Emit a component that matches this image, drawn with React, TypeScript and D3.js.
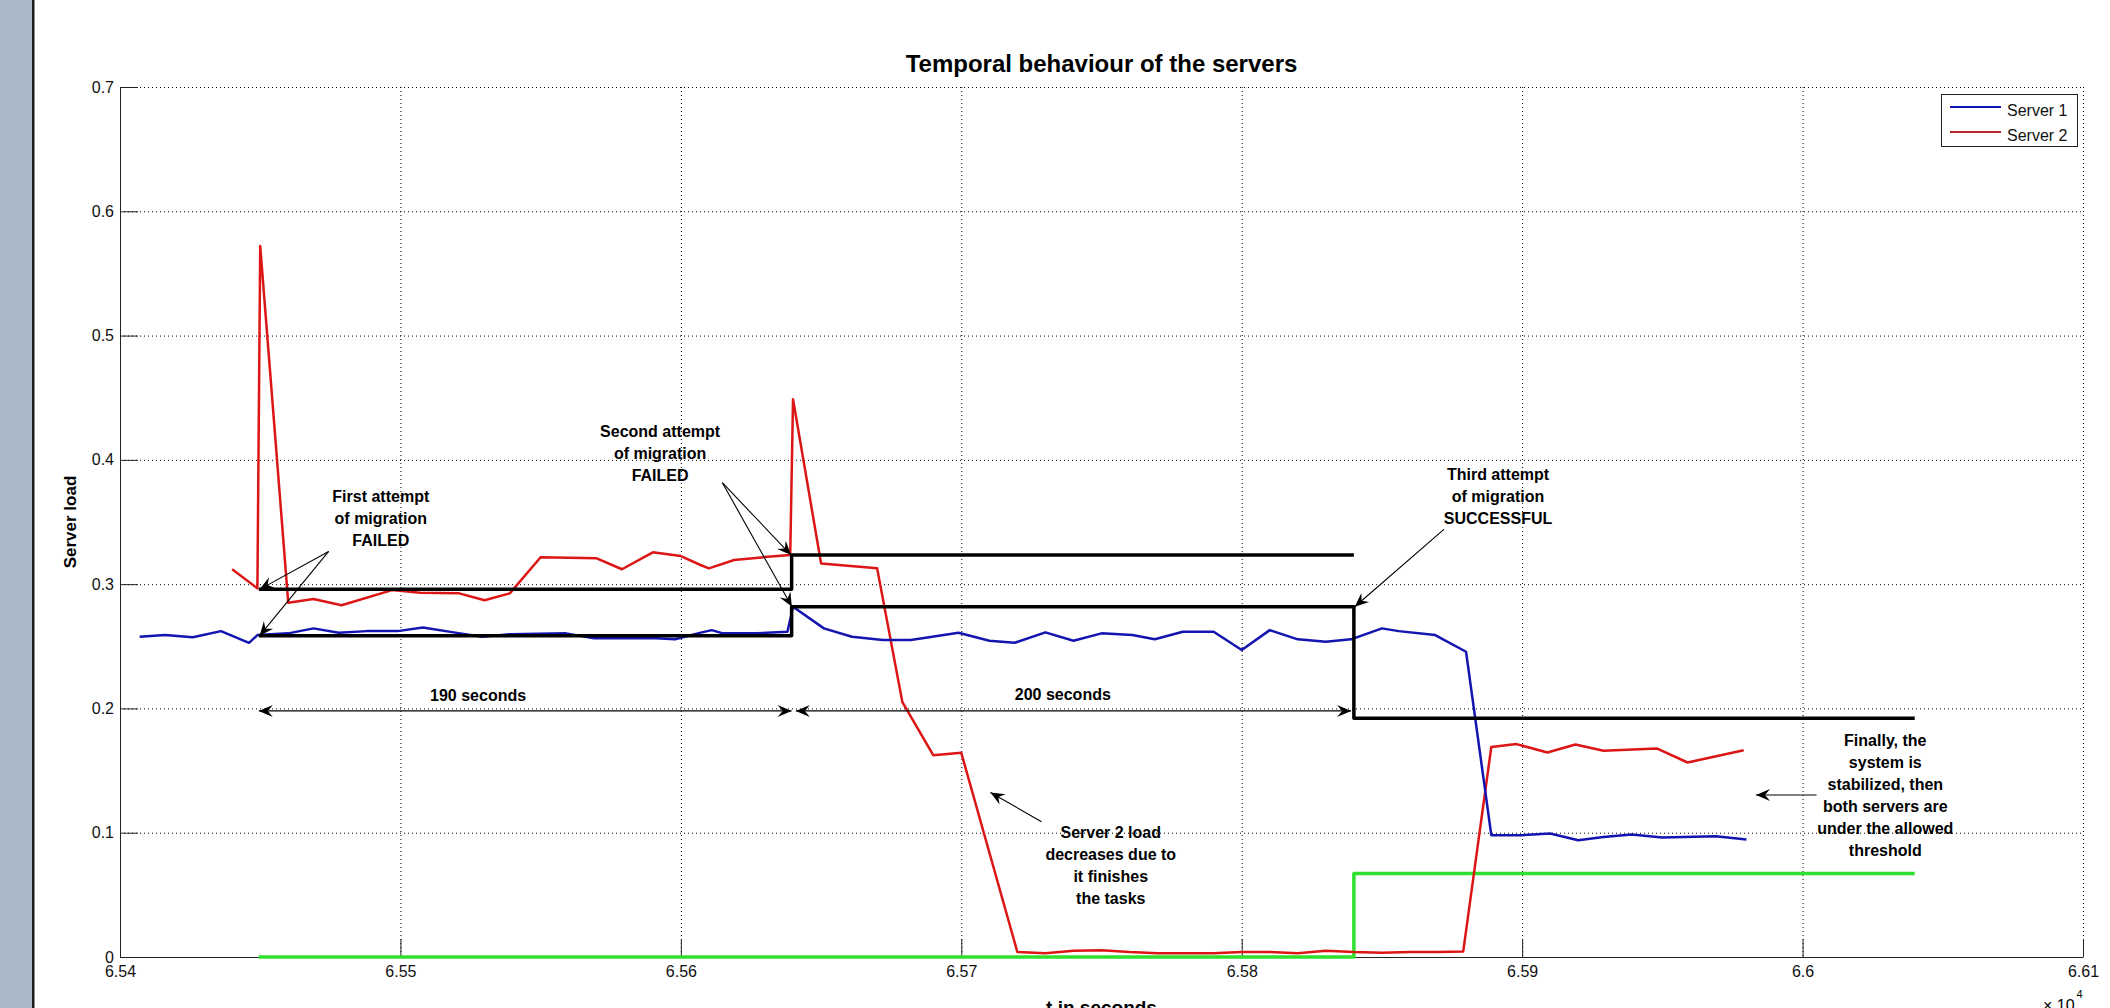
import * as d3 from 'd3';
import React, { useRef, useEffect } from 'react';

// Server 1 (blue) samples, time in seconds
const server1Time = [
  65407, 65416, 65426, 65436, 65446, 65449, 65460, 65469, 65478, 65488,
  65499, 65508, 65519, 65529, 65539, 65559, 65569, 65591, 65598, 65606,
  65611, 65615, 65627, 65638, 65640, 65651, 65661, 65672, 65682, 65699,
  65710, 65719, 65730, 65740, 65750, 65761, 65769, 65779, 65790, 65800,
  65810, 65820, 65830, 65839, 65850, 65856, 65869, 65880, 65889, 65900,
  65910, 65920, 65929, 65939, 65950, 65969, 65980,
];
const server1Load = [
  0.2577, 0.259, 0.2572, 0.2622, 0.2528, 0.259, 0.2604, 0.2644, 0.2609, 0.2622,
  0.2622, 0.2652, 0.2612, 0.2577, 0.2596, 0.2604, 0.2564, 0.2564, 0.2556, 0.2604,
  0.263, 0.2604, 0.2604, 0.2617, 0.2818, 0.2644, 0.2577, 0.255, 0.255, 0.2609,
  0.2544, 0.2528, 0.2612, 0.2544, 0.2604, 0.259, 0.2556, 0.2617, 0.2617, 0.247,
  0.263, 0.2556, 0.2536, 0.2556, 0.2644, 0.2622, 0.259, 0.2456, 0.098, 0.098,
  0.0993, 0.094, 0.0966, 0.0985, 0.0961, 0.0972, 0.0945,
];

// Server 2 (red) samples
const server2Time = [
  65440, 65449, 65450, 65460, 65469, 65479, 65497, 65507, 65521, 65530,
  65539, 65550, 65570, 65579, 65590, 65600, 65607, 65610, 65619, 65631,
  65639, 65640, 65650, 65670, 65679, 65690, 65700, 65720, 65730, 65740,
  65750, 65760, 65770, 65780, 65790, 65800, 65810, 65820, 65830, 65840,
  65850, 65860, 65870, 65879, 65889, 65898, 65909, 65919, 65929, 65948,
  65959, 65979,
];
const server2Load = [
  0.312, 0.2966, 0.572, 0.285, 0.288, 0.283, 0.2952, 0.293, 0.2926, 0.287,
  0.2926, 0.3216, 0.3208, 0.312, 0.3256, 0.3226, 0.3154, 0.3127, 0.3194, 0.322,
  0.3234, 0.4488, 0.3167, 0.3127, 0.205, 0.1624, 0.1643, 0.004, 0.003, 0.005,
  0.0055, 0.004, 0.003, 0.003, 0.003, 0.004, 0.004, 0.003, 0.005, 0.004,
  0.0035, 0.004, 0.004, 0.0045, 0.169, 0.1713, 0.1646, 0.171, 0.1659, 0.1678,
  0.1565, 0.1664,
];

// thresholds (black) and migrated load (green)
const upperLimitTime = [65449.5, 65639.5, 65639.5, 65840];
const upperLimitLoad = [0.2958, 0.2958, 0.3234, 0.3234];
const lowerLimitTime = [65449.5, 65639.5, 65639.5, 65840, 65840, 66040];
const lowerLimitLoad = [0.2585, 0.2585, 0.2818, 0.2818, 0.192, 0.192];
const migratedTime = [65449.5, 65840, 65840, 66040];
const migratedLoad = [0, 0, 0.0671, 0.0671];

const xTicks = [65400, 65500, 65600, 65700, 65800, 65900, 66000, 66100];
const xTickLabels = ['6.54', '6.55', '6.56', '6.57', '6.58', '6.59', '6.6', '6.61'];
const yTicks = [0, 0.1, 0.2, 0.3, 0.4, 0.5, 0.6, 0.7];
const yTickLabels = ['0', '0.1', '0.2', '0.3', '0.4', '0.5', '0.6', '0.7'];
const legendLabels = ['Server 1', 'Server 2'];

const firstNote = ['First attempt', 'of migration', 'FAILED'];
const secondNote = ['Second attempt', 'of migration', 'FAILED'];
const thirdNote = ['Third attempt', 'of migration', 'SUCCESSFUL'];
const decreaseNote = ['Server 2 load', 'decreases due to', 'it finishes', 'the tasks'];
const finalNote = ['Finally, the', 'system is', 'stabilized, then', 'both servers are', 'under the allowed', 'threshold'];

const FONT = '"Liberation Sans", Arial, Helvetica, sans-serif';

const App = () => {
  const ref = useRef<SVGSVGElement>(null);

  useEffect(() => {
    draw();
  }, []);

  const draw = () => {
    const svg = d3.select(ref.current);
    svg.selectAll('*').remove();

    const left = 120, right = 2083, top = 87, bottom = 957;

    const x = d3.scaleLinear().domain([65400, 66100]).range([left, right]);
    const y = d3.scaleLinear().domain([0, 0.7]).range([bottom, top]);

    // side strip of the window
    svg.append('rect').attr('x', 0).attr('y', 0).attr('width', 32).attr('height', 1008).attr('fill', '#a9b8c8');
    svg.append('rect').attr('x', 32).attr('y', 0).attr('width', 2.5).attr('height', 1008).attr('fill', '#1c1c1c');

    const defs = svg.append('defs');
    defs.append('marker')
      .attr('id', 'head')
      .attr('viewBox', '-15 -7 16 14')
      .attr('markerUnits', 'userSpaceOnUse')
      .attr('markerWidth', 16)
      .attr('markerHeight', 14)
      .attr('refX', 0)
      .attr('refY', 0)
      .attr('orient', 'auto-start-reverse')
      .append('path')
      .attr('d', 'M0,0 L-14,-6 L-9,0 L-14,6 Z')
      .attr('fill', '#000');

    // grid
    const grid = svg.append('g').attr('stroke', '#000').attr('stroke-width', 1).attr('stroke-dasharray', '1,3');
    xTicks.slice(1).forEach(t => {
      grid.append('line').attr('x1', x(t) + 0.5).attr('x2', x(t) + 0.5).attr('y1', top).attr('y2', bottom);
    });
    yTicks.slice(1).forEach(v => {
      grid.append('line').attr('x1', left).attr('x2', right).attr('y1', y(v) + 0.5).attr('y2', y(v) + 0.5);
    });

    // axes
    const xAxis = d3.axisBottom(x)
      .tickValues(xTicks)
      .tickFormat((d, i) => xTickLabels[i])
      .tickSizeInner(-18)
      .tickSizeOuter(0)
      .tickPadding(9);
    const gx = svg.append('g').attr('transform', `translate(0, ${bottom})`).call(xAxis);

    const yAxis = d3.axisLeft(y)
      .tickValues(yTicks)
      .tickFormat((d, i) => yTickLabels[i])
      .tickSizeInner(-18)
      .tickSizeOuter(0)
      .tickPadding(6);
    const gy = svg.append('g').attr('transform', `translate(${left}, 0)`).call(yAxis);

    [gx, gy].forEach(g => {
      g.attr('font-family', FONT).attr('font-size', 16);
      g.selectAll('line').attr('stroke', '#222');
      g.select('.domain').attr('stroke', '#222');
      g.selectAll('text').attr('fill', '#111');
    });

    // series
    const line = d3.line<[number, number]>().x(d => x(d[0])).y(d => y(d[1]));
    const drawSeries = (times: number[], loads: number[], color: string, width: number) => {
      svg.append('path')
        .datum(d3.zip(times, loads) as [number, number][])
        .attr('d', line)
        .attr('fill', 'none')
        .attr('stroke', color)
        .attr('stroke-width', width)
        .attr('stroke-linejoin', 'round');
    };
    drawSeries(migratedTime, migratedLoad, '#2fe02f', 3.5);
    drawSeries(server2Time, server2Load, '#dc1515', 2.5);
    drawSeries(server1Time, server1Load, '#1414b0', 2.5);
    drawSeries(upperLimitTime, upperLimitLoad, '#000', 3.5);
    drawSeries(lowerLimitTime, lowerLimitLoad, '#000', 3.5);

    // annotations
    const note = (lines: string[], t: number, v: number) => {
      const txt = svg.append('text')
        .attr('font-family', FONT)
        .attr('font-size', 16)
        .attr('font-weight', 'bold')
        .attr('text-anchor', 'middle')
        .attr('fill', '#000');
      lines.forEach((s, i) => {
        txt.append('tspan').attr('x', x(t)).attr('y', y(v) + i * 22).text(s);
      });
    };
    const arrow = (t1: number, v1: number, t2: number, v2: number, both = false) => {
      svg.append('line')
        .attr('x1', x(t1)).attr('y1', y(v1))
        .attr('x2', x(t2)).attr('y2', y(v2))
        .attr('stroke', '#000')
        .attr('stroke-width', 1.1)
        .attr('marker-end', 'url(#head)')
        .attr('marker-start', both ? 'url(#head)' : null);
    };

    note(firstNote, 65493, 0.3663);
    arrow(65474.4, 0.3263, 65449.8, 0.2958);
    arrow(65474.4, 0.3263, 65449.8, 0.2585);

    note(secondNote, 65592.6, 0.4186);
    arrow(65614.8, 0.3816, 65639.3, 0.3234);
    arrow(65614.8, 0.3816, 65639.6, 0.2818);

    note(thirdNote, 65891.4, 0.3838);
    arrow(65872.1, 0.3441, 65840.3, 0.2818);

    arrow(65449.5, 0.198, 65639.5, 0.198, true);
    note(['190 seconds'], 65527.7, 0.2062);
    arrow(65641, 0.198, 65839, 0.198, true);
    note(['200 seconds'], 65736.2, 0.2065);

    note(decreaseNote, 65753.3, 0.0955);
    arrow(65728.6, 0.1089, 65710.4, 0.1324);

    note(finalNote, 66029.5, 0.17);
    arrow(66005, 0.1303, 65983.4, 0.1303);

    // titles
    svg.append('text')
      .attr('x', (left + right) / 2).attr('y', 72)
      .attr('text-anchor', 'middle')
      .attr('font-family', FONT).attr('font-size', 24).attr('font-weight', 'bold')
      .text('Temporal behaviour of the servers');

    svg.append('text')
      .attr('transform', `translate(76, ${(top + bottom) / 2}) rotate(-90)`)
      .attr('text-anchor', 'middle')
      .attr('font-family', FONT).attr('font-size', 17).attr('font-weight', 'bold')
      .text('Server load');

    svg.append('text')
      .attr('x', (left + right) / 2).attr('y', 1014)
      .attr('text-anchor', 'middle')
      .attr('font-family', FONT).attr('font-size', 19).attr('font-weight', 'bold')
      .text('t in seconds');

    const exp = svg.append('text')
      .attr('x', 2043).attr('y', 1011)
      .attr('font-family', FONT).attr('font-size', 16);
    exp.append('tspan').text('× 10');
    exp.append('tspan').attr('font-size', 11).attr('dy', -13).attr('dx', 2).text('4');

    // legend
    const lg = svg.append('g');
    lg.append('rect')
      .attr('x', 1941.5).attr('y', 94.5).attr('width', 136).attr('height', 52)
      .attr('fill', '#fff').attr('stroke', '#222').attr('stroke-width', 1);
    const legendColors = ['#1414b0', '#b8262c'];
    legendLabels.forEach((label, i) => {
      const ly = 107 + i * 25;
      lg.append('line')
        .attr('x1', 1950).attr('x2', 2001).attr('y1', ly).attr('y2', ly)
        .attr('stroke', legendColors[i]).attr('stroke-width', 2);
      lg.append('text')
        .attr('x', 2007).attr('y', ly + 9)
        .attr('font-family', FONT).attr('font-size', 16).attr('fill', '#111')
        .text(label);
    });
  };

  return (
    <svg
      ref={ref}
      width={2110}
      height={1008}
      style={{ position: 'absolute', left: 0, top: 0, background: '#fff' }}
    />
  );
};

export default App;
